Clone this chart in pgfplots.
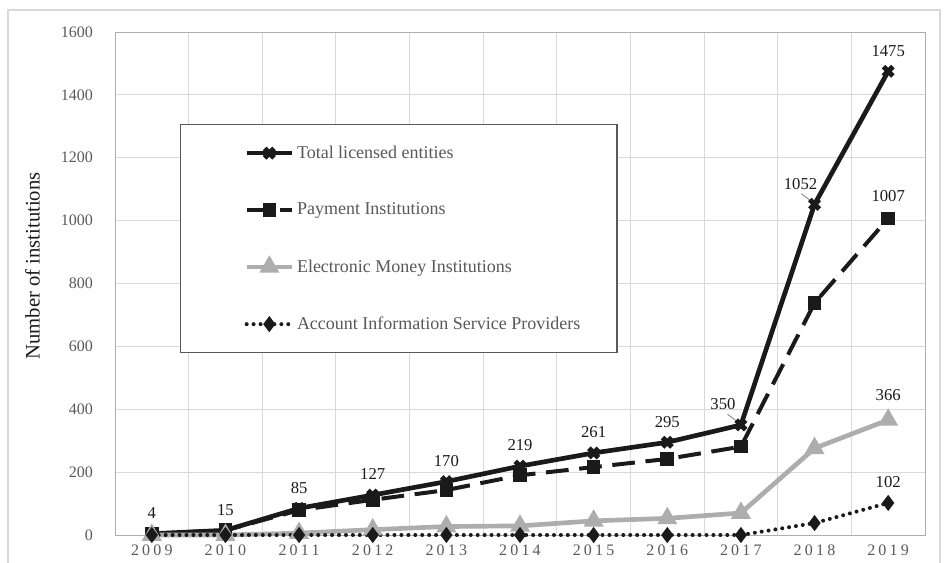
\documentclass[border=0pt]{standalone}
\usepackage{pgfplots}
\pgfplotsset{compat=1.18}
\usepackage{fontspec}
\setmainfont{Liberation Serif}
\newfontfamily\spaced[LetterSpace=20]{Liberation Serif}
\definecolor{gridc}{HTML}{D9D9D9}
\definecolor{tickc}{HTML}{595959}
\definecolor{emic}{HTML}{ADADAD}
\definecolor{linec}{HTML}{1A1A1A}
\begin{document}
\begin{tikzpicture}[x=1pt,y=1pt]
\useasboundingbox (0,0) rectangle (708,421.5);
\draw[gridc,line width=0.8pt] (6,-5) rectangle (705,414);
\begin{axis}[
  at={(86.25pt,20.25pt)}, anchor=south west,
  scale only axis, width=607.5pt, height=377.25pt,
  xmin=2008.5, xmax=2019.5, ymin=0, ymax=1600,
  xtick={2009,...,2019},
  xticklabels={2009,2010,2011,2012,2013,2014,2015,2016,2017,2018,2019},
  minor xtick={2009.5,2010.5,...,2018.5},
  ytick={0,200,...,1600},
  xminorgrids=true, ymajorgrids=true,
  grid style={gridc,line width=0.75pt},
  minor grid style={gridc,line width=0.75pt},
  major tick length=0pt, minor tick length=0pt,
  axis line style={gridc!80!black,line width=0.75pt},
  tick label style={text=tickc},
  xticklabel style={font=\spaced\fontsize{12}{14}\selectfont, yshift=-4pt},
  yticklabel style={font=\fontsize{12}{14}\selectfont, xshift=-13pt},
  /pgf/number format/assume math mode=true,
  yticklabel={\pgfmathprintnumber[1000 sep={}]{\tick}},
  ylabel={Number of institutions},
  ylabel style={font=\fontsize{15.5}{18}\selectfont, text=linec, at={(axis description cs:-0.102,0.535)}, anchor=center},
  legend style={at={(rel axis cs:0.080,0.817)}, anchor=north west,
    draw=black!65, line width=0.8pt, fill=white,
    font=\fontsize{13.5}{16}\selectfont, text=tickc,
    row sep=28pt, inner xsep=2pt, inner ysep=14pt},
  legend cell align=left,
  legend image code/.code={\path (-46pt,0pt);
    \draw[mark repeat=2,mark phase=2,#1] plot coordinates {(0pt,0pt) (17pt,0pt) (34pt,0pt)};},
  clip=false,
]
% Total licensed entities
\addplot[linec, line width=3.5pt, mark=x, mark size=5pt, mark options={line width=3.8pt, solid}]
  coordinates {(2009,4) (2010,15) (2011,85) (2012,127) (2013,170) (2014,219) (2015,261) (2016,295) (2017,350) (2018,1052) (2019,1475)};
\addlegendentry{\makebox[236pt][l]{Total licensed entities}}
% Payment Institutions
\addplot[linec, line width=3pt, dash pattern=on 17pt off 8pt, mark=square*, mark size=3.6pt, mark options={solid}]
  coordinates {(2009,4) (2010,15) (2011,79) (2012,112) (2013,143) (2014,190) (2015,216) (2016,242) (2017,281) (2018,738) (2019,1007)};
\addlegendentry{\makebox[236pt][l]{Payment Institutions}}
% Electronic Money Institutions
\addplot[emic, line width=3.5pt, mark=triangle*, mark size=5.2pt, mark options={solid}]
  coordinates {(2009,0) (2010,0) (2011,6) (2012,17) (2013,27) (2014,29) (2015,45) (2016,53) (2017,70) (2018,276) (2019,366)};
\addlegendentry{\makebox[236pt][l]{Electronic Money Institutions}}
% Account Information Service Providers
\addplot[linec, line width=3pt, line cap=round, dash pattern=on 0pt off 5.2pt, mark=diamond*, mark size=3.6pt, mark options={solid}]
  coordinates {(2009,0) (2010,0) (2011,0) (2012,0) (2013,0) (2014,0) (2015,0) (2016,0) (2017,0) (2018,38) (2019,102)};
\addlegendentry{\makebox[236pt][l]{Account Information Service Providers}}
% data labels
\begin{scope}[every node/.style={font=\fontsize{12.5}{14}\selectfont, text=linec, anchor=center}]
\node[yshift=15.5pt] at (axis cs:2009,4) {4};
\node[yshift=15.5pt] at (axis cs:2010,15) {15};
\node[yshift=15.5pt] at (axis cs:2011,85) {85};
\node[yshift=15.5pt] at (axis cs:2012,127) {127};
\node[yshift=15.5pt] at (axis cs:2013,170) {170};
\node[yshift=15.5pt] at (axis cs:2014,219) {219};
\node[yshift=15.5pt] at (axis cs:2015,261) {261};
\node[yshift=15.5pt] at (axis cs:2016,295) {295};
\node[xshift=-13.5pt,yshift=15.5pt] at (axis cs:2017,350) {350};
\node[xshift=-10.5pt,yshift=15.5pt] at (axis cs:2018,1052) {1052};
\node[yshift=15pt] at (axis cs:2019,1475) {1475};
\node[yshift=16.5pt] at (axis cs:2019,1007) {1007};
\node[yshift=18.5pt] at (axis cs:2019,366) {366};
\node[yshift=15.5pt] at (axis cs:2019,102) {102};
\end{scope}
\draw[gray, line width=0.6pt] ([xshift=-2pt,yshift=2pt]axis cs:2017,350) -- ([xshift=-10pt,yshift=8pt]axis cs:2017,350);
\draw[gray, line width=0.6pt] ([xshift=-2pt,yshift=2pt]axis cs:2018,1052) -- ([xshift=-10pt,yshift=8pt]axis cs:2018,1052);
\end{axis}
\end{tikzpicture}
\end{document}
